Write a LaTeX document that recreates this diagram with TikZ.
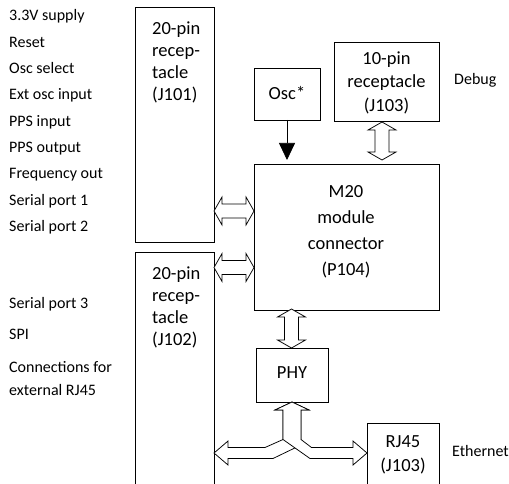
\documentclass[tikz,border=0pt]{standalone}
\usepackage{fontspec}
\setmainfont{Carlito}
\usetikzlibrary{arrows.meta,calc}
\newcommand\hdblarrow[2]{\draw[blk] (#1) -- ($(#1)+(8,-14)$) -- ($(#1)+(8,-7)$) -- ($(#2)+(-8,-7)$) -- ($(#2)+(-8,-14)$) -- (#2) -- ($(#2)+(-8,14)$) -- ($(#2)+(-8,7)$) -- ($(#1)+(8,7)$) -- ($(#1)+(8,14)$) -- cycle;}
\newcommand\vdblarrow[2]{\draw[blk] (#1) -- ($(#1)+(14,8)$) -- ($(#1)+(7,8)$) -- ($(#2)+(7,-8)$) -- ($(#2)+(14,-8)$) -- (#2) -- ($(#2)+(-14,-8)$) -- ($(#2)+(-7,-8)$) -- ($(#1)+(-7,8)$) -- ($(#1)+(-14,8)$) -- cycle;}
\begin{document}
\begin{tikzpicture}[x=1bp,y=-1bp,
  box/.style={draw=black,line width=0.75pt,rectangle,inner sep=0pt,outer sep=0pt},
  lbl/.style={anchor=base west,inner sep=0pt,font=\fontsize{16bp}{23bp}\selectfont,align=left},
  boxtxt/.style={inner sep=0pt,font=\fontsize{18.5bp}{22bp}\selectfont},
  blk/.style={draw=black,line width=0.75pt,fill=white,line join=miter},
  ]
\useasboundingbox (0,0) rectangle (509,484);
\clip (0,0) rectangle (509,484);
% boxes
\node[box,minimum width=79bp,minimum height=235bp] (j101) at (174.5,124.5) {};
\node[box,minimum width=79bp,minimum height=240bp] (j102) at (174.5,372) {};
\node[box,minimum width=66bp,minimum height=52bp] (osc) at (287,94) {};
\node[box,minimum width=105bp,minimum height=79bp] (j103) at (386.5,81.5) {};
\node[box,minimum width=185bp,minimum height=146bp] (m20) at (346.5,237) {};
\node[box,minimum width=72bp,minimum height=54bp] (phy) at (292,375) {};
\node[box,minimum width=72bp,minimum height=70bp] (rj45) at (403,458) {};
% box texts
\node[boxtxt,anchor=west,align=left] (j101t) at (152,62) {20-pin\\recep-\\tacle\\(J101)};
\node[boxtxt,anchor=west,align=left] (j102t) at (152,307) {20-pin\\recep-\\tacle\\(J102)};
\node[boxtxt,align=center,font=\fontsize{18.5bp}{23.5bp}\selectfont] (j103t) at (386.5,82.5) {10-pin\\receptacle\\(J103)};
\node[boxtxt] (osct) at (287,93) {Osc*};
\node[boxtxt,align=center,font=\fontsize{18.5bp}{26bp}\selectfont] (m20t) at (346,232) {M20\\module\\connector\\(P104)};
\node[boxtxt] (phyt) at (292,373) {PHY};
\node[boxtxt,align=center,font=\fontsize{18.5bp}{24bp}\selectfont] (rj45t) at (403,454.5) {RJ45\\(J103)};
% side labels
\node[lbl] (l1) at (9,21) {3.3V supply};
\node[lbl] (l2) at (9,47.3) {Reset};
\node[lbl] (l3) at (9,73.6) {Osc select};
\node[lbl] (l4) at (9,99.9) {Ext osc input};
\node[lbl] (l5) at (9,126.2) {PPS input};
\node[lbl] (l6) at (9,152.5) {PPS output};
\node[lbl] (l7) at (9,178.8) {Frequency out};
\node[lbl] (l8) at (9,205.1) {Serial port 1};
\node[lbl] (l9) at (9,231.4) {Serial port 2};
\node[lbl] (l10) at (9,308) {Serial port 3};
\node[lbl] (l11) at (9,339) {SPI};
\node[lbl] (l12) at (9,395) {Connections for\\external RJ45};
\node[lbl] (dbg) at (454,85) {Debug};
\node[lbl] (eth) at (452,456) {Ethernet};
% helper coordinates
\coordinate (r1) at (0,211);
\coordinate (r2) at (0,267.5);
\coordinate (cd) at (382,0);
\coordinate (cp) at (291.5,0);
\coordinate (a1) at (j101.east |- r1);
\coordinate (b1) at (m20.west |- r1);
\coordinate (a2) at (j102.east |- r2);
\coordinate (b2) at (m20.west |- r2);
\coordinate (dT) at ($(j103.south -| cd)+(0,1)$);
\coordinate (dB) at ($(m20.north -| cd)+(0,-4)$);
\coordinate (pT) at ($(m20.south -| cp)+(0,-1)$);
\coordinate (pB) at (phy.north -| cp);
% connectors
\hdblarrow{a1}{b1}
\hdblarrow{a2}{b2}
\vdblarrow{dT}{dB}
\vdblarrow{pT}{pB}
\draw[line width=0.75pt,-{Triangle[length=17bp,width=16bp]}] (osc.south) -- ($(osc.south |- m20.north)+(0,-4)$);
% Y-shaped arrows from PHY
\coordinate (yt) at (phy.south);
\coordinate (yl) at (j102.east |- 0,453);
\coordinate (yr) at (rj45.west |- 0,453);
\draw[blk] (yt) -- ($(yt)+(17,8)$) -- ($(yt)+(9,8)$) -- ($(yt)+(9,43)$) -- ($(yl)+(59,5.5)$) -- ($(yl)+(14,5.5)$) -- ($(yl)+(14,12)$) -- (yl) -- ($(yl)+(14,-12)$) -- ($(yl)+(14,-5.5)$) -- ($(yl)+(51,-5.5)$) -- ($(yt)+(-9,37.5)$) -- ($(yt)+(-9,8)$) -- ($(yt)+(-17,8)$) -- cycle;
\draw[blk] (yt) -- ($(yt)+(17,8)$) -- ($(yt)+(9,8)$) -- ($(yt)+(9,37.5)$) -- ($(yr)+(-55.5,-5.5)$) -- ($(yr)+(-14,-5.5)$) -- ($(yr)+(-14,-12)$) -- (yr) -- ($(yr)+(-14,12)$) -- ($(yr)+(-14,5.5)$) -- ($(yr)+(-57,5.5)$) -- ($(yt)+(-9,37.5)$) -- ($(yt)+(-9,8)$) -- ($(yt)+(-17,8)$) -- cycle;
\end{tikzpicture}
\end{document}
